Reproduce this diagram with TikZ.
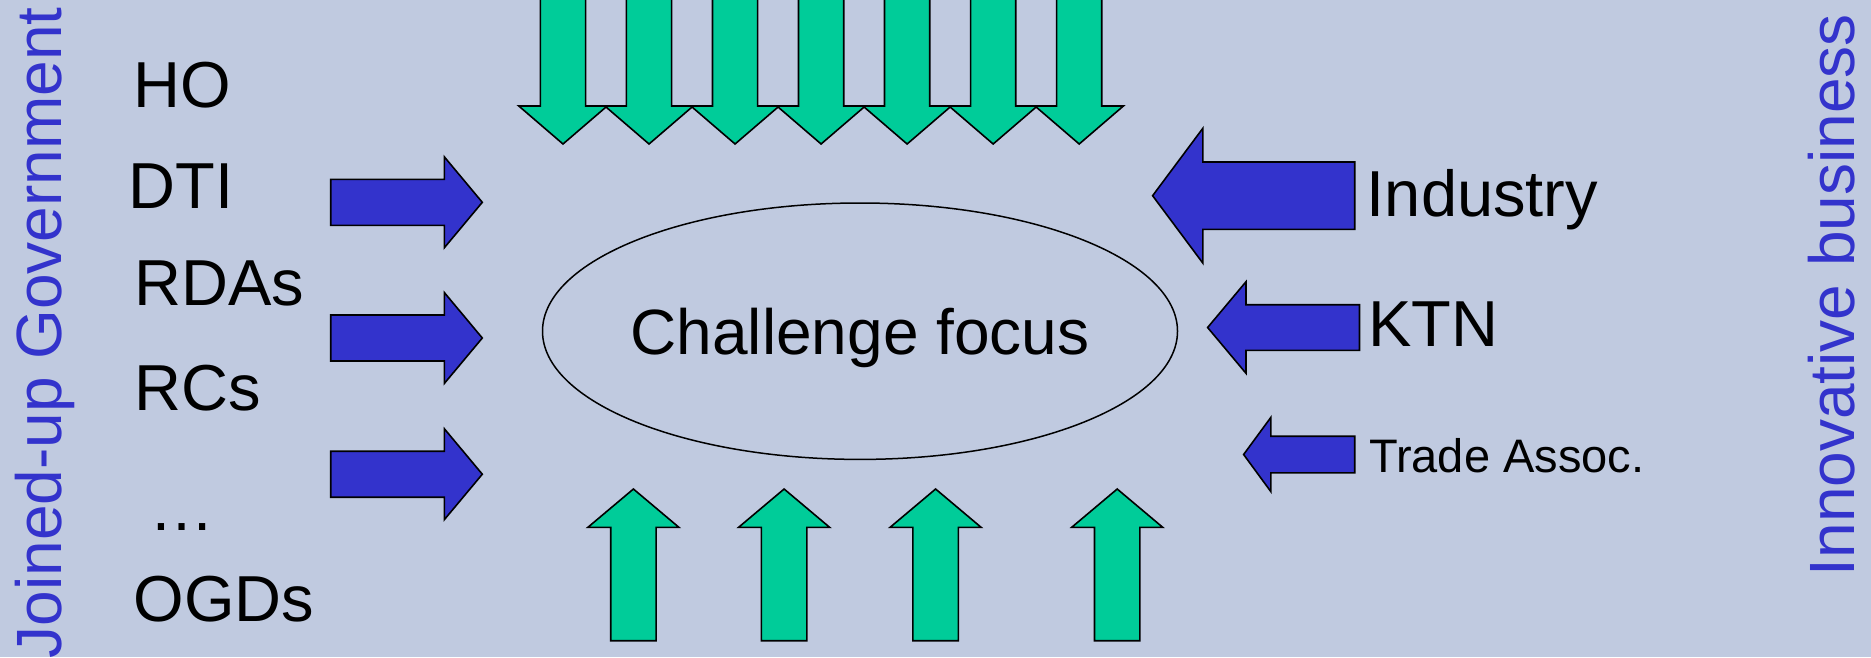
\documentclass[tikz,border=0pt]{standalone}
\usepackage{fontspec}
\setmainfont{Liberation Sans}
\usetikzlibrary{shapes.geometric}
\definecolor{bg}{RGB}{192,202,224}
\definecolor{arrowblue}{RGB}{51,51,204}
\definecolor{arrowgreen}{RGB}{0,204,153}
\definecolor{sideblue}{RGB}{51,51,204}
% horizontal block arrow: style, tail x, shoulder x, tip x, centre y, shaft half, head half
\newcommand\HArr[7]{%
  \draw[#1] (#2,{#5-#6}) -- (#3,{#5-#6}) -- (#3,{#5-#7}) -- (#4,#5) -- (#3,{#5+#7}) -- (#3,{#5+#6}) -- (#2,{#5+#6}) -- cycle;}
% vertical block arrow: style, centre x, tail y, shoulder y, tip y, shaft half, head half
\newcommand\VArr[7]{%
  \draw[#1] ({#2-#6},#3) -- ({#2-#6},#4) -- ({#2-#7},#4) -- (#2,#5) -- ({#2+#7},#4) -- ({#2+#6},#4) -- ({#2+#6},#3) -- cycle;}
\tikzset{
  bluearrow/.style={fill=arrowblue, draw=black, line width=1.6pt, line join=miter},
  greenarrow/.style={fill=arrowgreen, draw=black, line width=1.6pt, line join=miter},
  bigtxt/.style={inner sep=0pt, anchor=base west, font=\fontsize{65}{78}\selectfont},
  smalltxt/.style={inner sep=0pt, anchor=base west, font=\fontsize{47}{56}\selectfont},
  sidetxt/.style={inner sep=0pt, text=sideblue, font=\fontsize{64}{77}\selectfont, rotate=90, anchor=base east},
}
\begin{document}
\begin{tikzpicture}[x=1pt,y=-1pt]
\useasboundingbox (0,0) rectangle (1871,657);
\fill[bg] (0,0) rectangle (1871,657);
\clip (0,0) rectangle (1871,657);
% side titles
\node[sidetxt] (gov) at (61.7,7) {Joined-up Government};
\node[sidetxt] (biz) at (1854,14) {Innovative business};
% left labels
\node[bigtxt] (ho) at (133,107.7) {HO};
\node[bigtxt] (dti) at (128.2,208.3) {DTI};
\node[bigtxt] (rdas) at (134,305) {RDAs};
\node[bigtxt] (rcs) at (134,410) {RCs};
\node[bigtxt] (dots) at (149,530) {…};
\node[bigtxt] (ogds) at (133.6,621.3) {OGDs};
% right labels
\node[bigtxt] (industry) at (1366.7,216) {Industry};
\node[bigtxt] (ktn) at (1368,346.7) {KTN};
\node[smalltxt] (trade) at (1369,472.7) {Trade Assoc.};
% central ellipse
\node[draw=black, line width=1.5pt, ellipse, minimum width=635pt, minimum height=256.4pt, inner sep=0pt] (focus) at (860,331.2) {};
\node[inner sep=0pt, anchor=base, font=\fontsize{64}{77}\selectfont] (focustext) at (860,354) {Challenge focus};
% left blue arrows
\HArr{bluearrow}{330.7}{444.3}{482.3}{202.3}{23}{45.5}
\HArr{bluearrow}{330.7}{444.3}{482.3}{338}{23}{45.5}
\HArr{bluearrow}{330.7}{444.3}{482.3}{474.2}{23}{45.5}
% right blue arrows
\HArr{bluearrow}{1354.7}{1202.9}{1152.6}{195.7}{33.7}{67.5}
\HArr{bluearrow}{1359.5}{1246}{1207.6}{327.5}{22.8}{45.8}
\HArr{bluearrow}{1354.7}{1270.9}{1243.6}{454.5}{18.3}{37.2}
% top green arrows
\foreach \k in {0,...,6}{
  \pgfmathsetmacro\cx{563+86.03*\k}
  \VArr{greenarrow}{\cx}{-10}{106}{144}{22.6}{44.2}
}
% bottom green arrows
\foreach \cx in {633.4,784.1,935.6,1117.2}{
  \VArr{greenarrow}{\cx}{640.7}{527.3}{489}{22.7}{45.5}
}
\end{tikzpicture}
\end{document}
